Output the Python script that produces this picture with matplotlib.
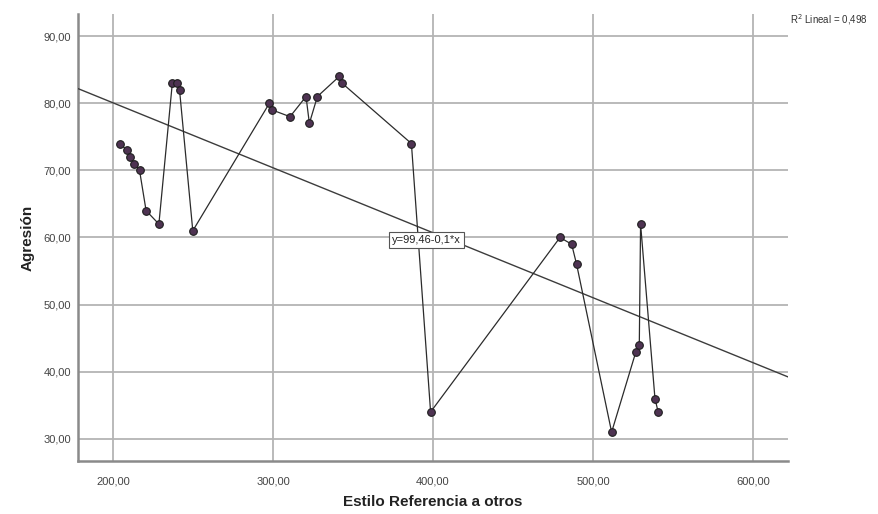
import matplotlib
matplotlib.use('Agg')
import matplotlib.pyplot as plt
import numpy as np

plt.rcParams['font.family'] = ['Liberation Sans', 'DejaVu Sans']

# Data (sorted by x, joined in that order)
estilo = [204.4, 208.5, 210.6, 213.3, 216.5, 220.6, 228.6, 237.0, 239.8, 241.5,
          249.8, 297.7, 299.4, 310.6, 320.6, 322.7, 327.7, 341.4, 343.1, 386.5,
          398.5, 479.4, 486.7, 489.8, 511.7, 526.9, 529.0, 529.8, 538.8, 540.8]
agresion = [74, 73, 72, 71, 70, 64, 62, 83, 83, 82,
            61, 80, 79, 78, 81, 77, 81, 84, 83, 74,
            34, 60, 59, 56, 31, 43, 44, 62, 36, 34]
x_ticks = [200, 300, 400, 500, 600]
y_ticks = [30, 40, 50, 60, 70, 80, 90]
fit_label = 'y=99,46-0,1*x'
r2_label = r'R$^2$ Lineal = 0,498'

fig = plt.figure(figsize=(8.79, 5.14), dpi=100)
ax = fig.add_axes([0.0887, 0.1031, 0.8078, 0.8697])
ax.set_xlim(178, 622)
ax.set_ylim(26.7, 93.3)

grid_c = '#b4b4b4'
ax.set_xticks(x_ticks)
ax.set_yticks(y_ticks)
ax.grid(True, color=grid_c, lw=1.3)
ax.set_axisbelow(True)
ax.set_xticklabels([f'{v:.2f}'.replace('.', ',') for v in x_ticks])
ax.set_yticklabels([f'{v:.2f}'.replace('.', ',') for v in y_ticks])
ax.tick_params(length=0, labelsize=8, labelcolor='#444444')
ax.tick_params(axis='x', pad=11)
ax.tick_params(axis='y', pad=5)

for s in ['top', 'right']:
    ax.spines[s].set_visible(False)
for s in ['left', 'bottom']:
    ax.spines[s].set_color('#8a8a8a')
    ax.spines[s].set_linewidth(1.8)

# regression line
slope, intercept = np.polyfit(estilo, agresion, 1)
xs = np.array(ax.get_xlim())
ax.plot(xs, intercept + slope * xs, color='#3c3c3c', lw=1.0, zorder=3)

# observed series
ax.plot(estilo, agresion, color='#2b2b2b', lw=0.9, marker='o', markersize=5.5,
        markerfacecolor='#4e3352', markeredgecolor='#1e1e1e', markeredgewidth=0.8, zorder=4)

ax.text(374.5, 59.6, fit_label, ha='left', va='center', fontsize=8, color='#222222', zorder=5,
        bbox=dict(boxstyle='square,pad=0.25', fc='white', ec='#555555', lw=0.8))

fig.text(0.899, 0.962, r2_label, ha='left', va='center', fontsize=7, color='#333333')

ax.set_xlabel('Estilo Referencia a otros', fontsize=11, fontweight='bold', color='#222222', labelpad=6)
ax.set_ylabel('Agresión', fontsize=11, fontweight='bold', color='#222222', labelpad=6)

fig.savefig('out.png', dpi=100)
